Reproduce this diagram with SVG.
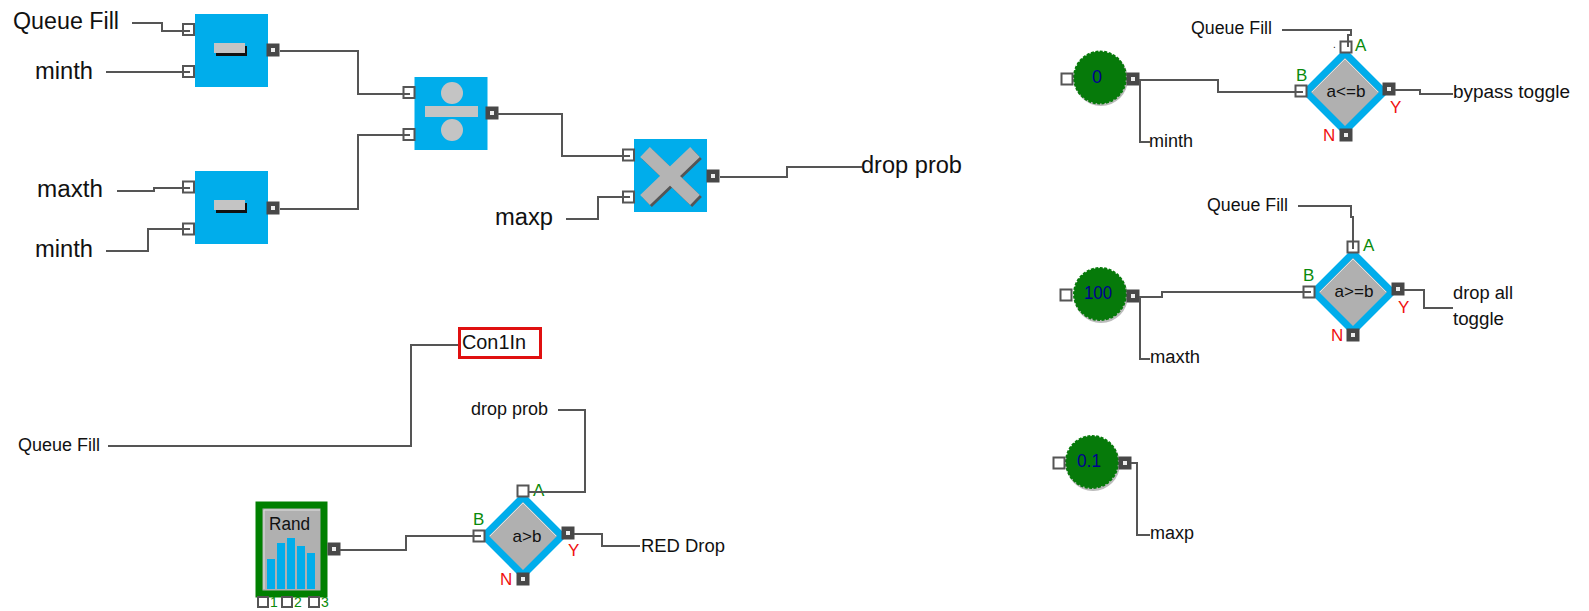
<svg xmlns="http://www.w3.org/2000/svg" width="1589" height="611" viewBox="0 0 1589 611">
<style>
text{font-family:"Liberation Sans","DejaVu Sans",sans-serif;fill:#111}
.l{font-size:23px}
.m{font-size:18px}
.s{font-size:17px;text-anchor:middle}
.g{fill:#0a8a0a;font-size:17px}
.n{fill:#0a8a0a;font-size:14px}
.r{fill:#f01010;font-size:17px}
.v{fill:#000090;font-size:18px;text-anchor:middle}
.w{fill:none;stroke:#555;stroke-width:2}
.b{fill:#00adeb}
.gy{fill:#c4c4c4}
.k{fill:#111}
.dia{fill:#b0b0b0;stroke:#00adeb;stroke-width:7;stroke-linejoin:miter}
.hl{fill:none;stroke:#e0e0e0;stroke-width:1}
.con{fill:#067a0a;stroke:#067a0a;stroke-width:2;stroke-dasharray:3 1.500}
.sh{fill:#bbb}
</style>
<defs>
<g id="pi"><rect x="-5.500" y="-5.500" width="11" height="11" fill="#fff" stroke="#555" stroke-width="2"/></g>
<g id="po"><rect x="-6.500" y="-6.500" width="13" height="13" fill="#484848"/><rect x="-2" y="-2" width="4" height="4" fill="#eee"/></g>
<g id="minus"><rect x="-13" y="-3" width="31" height="10" class="k"/><rect x="-15" y="-6" width="31" height="10" class="gy"/></g>
</defs>
<g id="sub1"><rect class="b" x="195" y="14" width="73" height="73"/><use href="#minus" x="229" y="49"/><use href="#pi" x="188.500" y="29.500"/><use href="#pi" x="188.500" y="71.500"/><use href="#po" x="273" y="50"/></g>
<g id="sub2"><rect class="b" x="195" y="171" width="73" height="73"/><use href="#minus" x="229" y="206"/><use href="#pi" x="188.500" y="187"/><use href="#pi" x="188.500" y="229"/><use href="#po" x="273" y="208"/></g>
<g id="div"><rect class="b" x="414.500" y="77" width="73" height="73"/><circle class="gy" cx="452" cy="93" r="11"/><rect class="gy" x="425" y="106" width="53" height="11"/><circle class="gy" cx="452" cy="130" r="11"/><use href="#pi" x="409" y="92.500"/><use href="#pi" x="409" y="134.500"/><use href="#po" x="492" y="113"/></g>
<g id="mul"><rect class="b" x="634" y="139" width="73" height="73"/><path d="M647 154L697 202M697 154L647 202" fill="none" stroke="#555" stroke-width="14"/><path d="M645 152L695 200M695 152L645 200" fill="none" stroke="#b4b4b4" stroke-width="14"/><use href="#pi" x="628.500" y="155"/><use href="#pi" x="628.500" y="197"/><use href="#po" x="713" y="176"/></g>
<g id="lbl-queue1"><text class="l" x="13" y="29" textLength="106" lengthAdjust="spacingAndGlyphs">Queue Fill</text></g>
<g id="lbl-minth1"><text class="l" x="35" y="79" textLength="58" lengthAdjust="spacingAndGlyphs">minth</text></g>
<g id="lbl-maxth1"><text class="l" x="37" y="197" textLength="66" lengthAdjust="spacingAndGlyphs">maxth</text></g>
<g id="lbl-minth2"><text class="l" x="35" y="257" textLength="58" lengthAdjust="spacingAndGlyphs">minth</text></g>
<g id="lbl-maxp1"><text class="l" x="495" y="225" textLength="58" lengthAdjust="spacingAndGlyphs">maxp</text></g>
<g id="lbl-dropprob1"><text class="l" x="861" y="173" textLength="101" lengthAdjust="spacingAndGlyphs">drop prob</text></g>
<g id="con1in"><rect x="459.500" y="328.500" width="81" height="29" fill="#fff" stroke="#e01010" stroke-width="3"/><text x="462" y="349" font-size="20" textLength="64" lengthAdjust="spacingAndGlyphs">Con1In</text></g>
<g id="lbl-queue2"><text class="m" x="18" y="451" textLength="82" lengthAdjust="spacingAndGlyphs">Queue Fill</text></g>
<g id="lbl-dropprob2"><text class="m" x="471" y="415" textLength="77" lengthAdjust="spacingAndGlyphs">drop prob</text></g>
<g id="lbl-reddrop"><text class="m" x="641" y="552" textLength="84" lengthAdjust="spacingAndGlyphs">RED Drop</text></g>
<g id="rand">
<rect x="259" y="505" width="65" height="89" fill="#b0b0b0" stroke="#008000" stroke-width="7"/>
<path class="hl" d="M264 589V510H320"/>
<text x="269" y="530" font-size="18" textLength="41" lengthAdjust="spacingAndGlyphs">Rand</text>
<g class="b"><rect x="267" y="559" width="8" height="30"/><rect x="277" y="543" width="8" height="46"/><rect x="287" y="538" width="8" height="51"/><rect x="297" y="546" width="8" height="43"/><rect x="307" y="553" width="8" height="36"/></g>
<use href="#po" x="334" y="549"/>
<g fill="#fff" stroke="#555" stroke-width="2"><rect x="258" y="597" width="10" height="10"/><rect x="282" y="597" width="10" height="10"/><rect x="309" y="597" width="10" height="10"/></g>
<text class="n" x="270" y="607">1</text><text class="n" x="294" y="607">2</text><text class="n" x="321" y="607">3</text>
</g>
<g id="cmp1"><path class="dia" d="M523 497L562 536L523 575L484 536Z"/><path class="hl" d="M490 536L523 503L556 536"/><text class="s" x="527" y="542">a&gt;b</text><use href="#pi" x="523" y="491"/><use href="#pi" x="479" y="536"/><use href="#po" x="568" y="533"/><use href="#po" x="523" y="579"/><text class="g" x="533" y="496">A</text><text class="g" x="473" y="525">B</text><text class="r" x="568" y="556">Y</text><text class="r" x="500" y="585">N</text></g>
<g id="const0"><circle cx="1101" cy="79" r="27" class="sh"/><circle class="con" cx="1100" cy="77.500" r="26"/><text class="v" x="1097" y="83">0</text><use href="#pi" x="1067" y="79"/><use href="#po" x="1133" y="79"/></g>
<g id="lbl-minth3"><text class="m" x="1149" y="147" textLength="44" lengthAdjust="spacingAndGlyphs">minth</text></g>
<g id="lbl-queue3"><text class="m" x="1191" y="34" textLength="81" lengthAdjust="spacingAndGlyphs">Queue Fill</text></g>
<g id="lbl-bypass"><text class="m" x="1453" y="98" textLength="117" lengthAdjust="spacingAndGlyphs">bypass toggle</text></g>
<g id="cmp2"><path class="dia" d="M1345 53L1384 92L1345 131L1306 92Z"/><path class="hl" d="M1312 92L1345 59L1378 92"/><text class="s" x="1346" y="97" textLength="39" lengthAdjust="spacingAndGlyphs">a&lt;=b</text><use href="#pi" x="1346" y="47"/><use href="#pi" x="1301" y="91"/><use href="#po" x="1389" y="89"/><use href="#po" x="1346" y="135"/><text class="g" x="1355" y="51">A</text><text class="g" x="1296" y="81">B</text><text class="r" x="1390" y="113">Y</text><text class="r" x="1323" y="141">N</text><text class="k" x="1333" y="48" font-size="10">.</text></g>
<g id="const100"><circle cx="1101" cy="296" r="27" class="sh"/><circle class="con" cx="1100" cy="294" r="26"/><text class="v" x="1098" y="299" textLength="28" lengthAdjust="spacingAndGlyphs">100</text><use href="#pi" x="1066" y="295"/><use href="#po" x="1133" y="296"/></g>
<g id="lbl-maxth2"><text class="m" x="1150" y="363" textLength="50" lengthAdjust="spacingAndGlyphs">maxth</text></g>
<g id="lbl-queue4"><text class="m" x="1207" y="211" textLength="81" lengthAdjust="spacingAndGlyphs">Queue Fill</text></g>
<g id="lbl-dropall"><text class="m" x="1453" y="299" textLength="60" lengthAdjust="spacingAndGlyphs">drop all</text><text class="m" x="1453" y="325" textLength="51" lengthAdjust="spacingAndGlyphs">toggle</text></g>
<g id="cmp3"><path class="dia" d="M1353 253L1392 292L1353 331L1314 292Z"/><path class="hl" d="M1320 292L1353 259L1386 292"/><text class="s" x="1354" y="297" textLength="39" lengthAdjust="spacingAndGlyphs">a&gt;=b</text><use href="#pi" x="1353" y="247"/><use href="#pi" x="1309" y="292"/><use href="#po" x="1398" y="289"/><use href="#po" x="1353" y="335"/><text class="g" x="1363" y="251">A</text><text class="g" x="1303" y="281">B</text><text class="r" x="1398" y="313">Y</text><text class="r" x="1331" y="341">N</text></g>
<g id="const01"><circle cx="1093" cy="464" r="27" class="sh"/><circle class="con" cx="1092" cy="462" r="26"/><text class="v" x="1089" y="467" textLength="24" lengthAdjust="spacingAndGlyphs">0.1</text><use href="#pi" x="1059" y="463"/><use href="#po" x="1125" y="463"/></g>
<g id="lbl-maxp2"><text class="m" x="1150" y="539" textLength="44" lengthAdjust="spacingAndGlyphs">maxp</text></g>
<g id="connectors">
<path class="w" d="M132 23H162V31H190"/>
<path class="w" d="M106 72H190"/>
<path class="w" d="M280 51H358V94H410"/>
<path class="w" d="M280 209H358V135H410"/>
<path class="w" d="M117 191H154V188H190"/>
<path class="w" d="M106 251H148V229H190"/>
<path class="w" d="M497 114H562V156H630"/>
<path class="w" d="M566 219H598V197H630"/>
<path class="w" d="M720 177H787V167H862"/>
<path class="w" d="M108 446H411V345H458"/>
<path class="w" d="M558 410H585V492H529"/>
<path class="w" d="M340 550H406V536H481"/>
<path class="w" d="M574 534H602V546H640"/>
<path class="w" d="M1139 80H1218V92H1303"/>
<path class="w" d="M1140 80V142H1150"/>
<path class="w" d="M1282 30H1351V35H1348V47"/>
<path class="w" d="M1395 90H1420V94H1453"/>
<path class="w" d="M1139 297H1162V292H1311"/>
<path class="w" d="M1140 297V359H1150"/>
<path class="w" d="M1298 206H1351V217H1353V249"/>
<path class="w" d="M1404 290H1424V308H1453"/>
<path class="w" d="M1131 463H1137V535H1150"/>
</g>
</svg>
